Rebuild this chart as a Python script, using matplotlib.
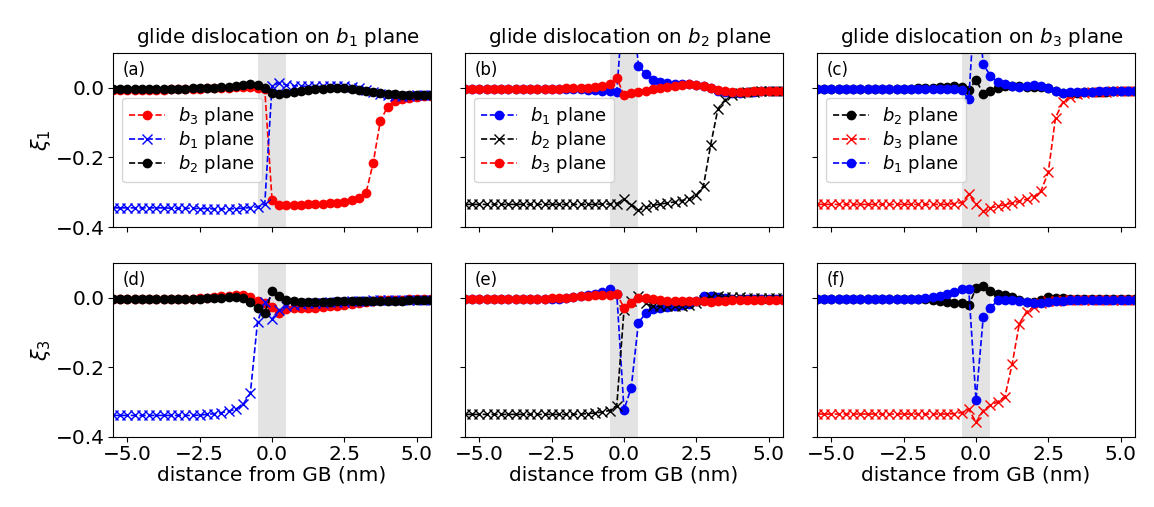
import numpy as np
import matplotlib
matplotlib.use("Agg")
import matplotlib.pyplot as plt

# distance from GB (nm)
x = np.arange(-5.5, 5.5001, 0.25)

# ---------- xi_1 : glide on b1 plane (a) ----------
a_b3 = [-0.006, -0.006, -0.006, -0.006, -0.005, -0.005, -0.005, -0.005, -0.004, -0.004, -0.004,
        -0.003, -0.003, -0.002, -0.002, -0.001, 0.000, 0.001, 0.002, 0.002, 0.000,
        -0.004, -0.321, -0.338, -0.338, -0.337, -0.336, -0.335, -0.334, -0.333, -0.332, -0.330,
        -0.327, -0.323, -0.316, -0.303, -0.216, -0.094, -0.055, -0.039, -0.032, -0.028, -0.026,
        -0.024, -0.023]
a_b1 = [-0.345, -0.345, -0.345, -0.345, -0.345, -0.345, -0.345, -0.345, -0.346, -0.346, -0.346,
        -0.346, -0.347, -0.347, -0.348, -0.348, -0.348, -0.347, -0.346, -0.344, -0.342,
        -0.334, 0.004, 0.015, 0.008, 0.006, 0.005, 0.004, 0.004, 0.004, 0.004, 0.004,
        0.004, 0.003, 0.000, -0.006, -0.012, -0.018, -0.022, -0.024, -0.024, -0.023, -0.022,
        -0.022, -0.021]
a_b2 = [-0.004, -0.004, -0.004, -0.004, -0.004, -0.004, -0.004, -0.004, -0.003, -0.003, -0.003,
        -0.002, -0.002, -0.001, 0.000, 0.001, 0.003, 0.006, 0.009, 0.012, 0.008,
        -0.002, -0.015, -0.019, -0.016, -0.012, -0.008, -0.006, -0.004, -0.003, -0.002, -0.001,
        -0.001, -0.003, -0.006, -0.009, -0.012, -0.015, -0.017, -0.019, -0.020, -0.020, -0.020,
        -0.020, -0.020]

# ---------- xi_1 : glide on b2 plane (b) ----------
b_b1 = [-0.003, -0.003, -0.003, -0.003, -0.003, -0.003, -0.003, -0.003, -0.003, -0.003, -0.003,
        -0.003, -0.003, -0.003, -0.003, -0.003, -0.004, -0.005, -0.007, -0.009, -0.010,
        -0.011, 0.270, 0.270, 0.063, 0.040, 0.022, 0.017, 0.014, 0.012, 0.012, 0.011,
        0.008, 0.004, -0.002, -0.008, -0.013, -0.015, -0.014, -0.012, -0.011, -0.010, -0.010,
        -0.010, -0.010]
b_b2 = [-0.335, -0.335, -0.335, -0.335, -0.335, -0.335, -0.335, -0.335, -0.335, -0.335, -0.335,
        -0.335, -0.335, -0.335, -0.335, -0.335, -0.335, -0.335, -0.335, -0.334, -0.334,
        -0.333, -0.320, -0.336, -0.352, -0.343, -0.338, -0.334, -0.331, -0.328, -0.324, -0.319,
        -0.308, -0.282, -0.163, -0.060, -0.034, -0.022, -0.016, -0.013, -0.011, -0.010, -0.009,
        -0.009, -0.009]
b_b3 = [-0.004, -0.004, -0.004, -0.004, -0.004, -0.004, -0.004, -0.004, -0.004, -0.004, -0.003,
        -0.003, -0.003, -0.003, -0.002, -0.002, -0.001, 0.000, 0.002, 0.005, 0.011,
        0.029, -0.021, -0.016, -0.012, -0.008, -0.004, 0.000, 0.003, 0.006, 0.008, 0.010,
        0.009, 0.005, -0.001, -0.006, -0.010, -0.012, -0.012, -0.011, -0.010, -0.010, -0.010,
        -0.009, -0.009]

# ---------- xi_1 : glide on b3 plane (c) ----------
c_b2 = [-0.003, -0.003, -0.003, -0.003, -0.003, -0.003, -0.003, -0.003, -0.003, -0.003, -0.003,
        -0.003, -0.003, -0.003, -0.002, -0.001, 0.000, 0.002, 0.003, 0.004, 0.003,
        -0.007, 0.023, -0.017, -0.010, 0.000, 0.005, 0.005, 0.004, 0.003, 0.003, 0.002,
        -0.002, -0.010, -0.015, -0.015, -0.014, -0.013, -0.012, -0.011, -0.011, -0.010, -0.010,
        -0.010, -0.010]
c_b3 = [-0.335, -0.335, -0.335, -0.335, -0.335, -0.335, -0.335, -0.335, -0.335, -0.335, -0.335,
        -0.335, -0.335, -0.335, -0.335, -0.335, -0.335, -0.335, -0.335, -0.333, -0.330,
        -0.306, -0.335, -0.355, -0.345, -0.340, -0.336, -0.331, -0.326, -0.320, -0.313, -0.296,
        -0.243, -0.086, -0.042, -0.025, -0.018, -0.015, -0.013, -0.012, -0.011, -0.010, -0.010,
        -0.010, -0.010]
c_b1 = [-0.003, -0.003, -0.003, -0.003, -0.003, -0.003, -0.003, -0.003, -0.003, -0.003, -0.003,
        -0.003, -0.003, -0.003, -0.003, -0.003, -0.003, -0.003, -0.003, -0.004, -0.006,
        -0.033, 0.300, 0.068, 0.034, 0.017, 0.010, 0.005, 0.003, 0.006, 0.008, 0.006,
        0.000, -0.009, -0.014, -0.013, -0.012, -0.011, -0.011, -0.010, -0.010, -0.010, -0.010,
        -0.010, -0.010]

# ---------- xi_3 : glide on b1 plane (d) ----------
d_b3 = [-0.003, -0.003, -0.003, -0.003, -0.003, -0.003, -0.003, -0.003, -0.003, -0.003, -0.003,
        -0.003, -0.002, 0.000, 0.002, 0.004, 0.006, 0.008, 0.007, 0.002, -0.008,
        -0.015, -0.026, -0.045, -0.033, -0.030, -0.030, -0.029, -0.028, -0.027, -0.025, -0.023,
        -0.020, -0.017, -0.014, -0.011, -0.009, -0.007, -0.006, -0.005, -0.005, -0.004, -0.004,
        -0.004, -0.004]
d_b1 = [-0.338, -0.338, -0.338, -0.338, -0.338, -0.338, -0.338, -0.338, -0.338, -0.338, -0.338,
        -0.338, -0.337, -0.335, -0.333, -0.330, -0.326, -0.320, -0.306, -0.275, -0.069,
        -0.011, -0.062, -0.035, -0.025, -0.020, -0.018, -0.016, -0.015, -0.014, -0.013, -0.012,
        -0.011, -0.010, -0.009, -0.008, -0.007, -0.007, -0.006, -0.006, -0.005, -0.005, -0.005,
        -0.005, -0.005]
d_b2 = [-0.004, -0.004, -0.004, -0.004, -0.004, -0.004, -0.004, -0.004, -0.004, -0.004, -0.004,
        -0.004, -0.003, -0.002, -0.001, 0.000, 0.001, 0.002, 0.000, -0.012, -0.030,
        -0.045, 0.019, 0.005, -0.007, -0.010, -0.011, -0.011, -0.011, -0.011, -0.011, -0.010,
        -0.010, -0.010, -0.010, -0.010, -0.010, -0.009, -0.009, -0.008, -0.008, -0.007, -0.007,
        -0.006, -0.006]

# ---------- xi_3 : glide on b2 plane (e) ----------
e_b1 = [-0.003, -0.003, -0.003, -0.003, -0.003, -0.003, -0.003, -0.003, -0.003, -0.003, -0.003,
        -0.003, -0.003, -0.003, -0.001, 0.001, 0.004, 0.008, 0.012, 0.017, 0.024,
        0.012, -0.322, -0.258, -0.071, -0.045, -0.031, -0.028, -0.026, -0.024, -0.021, -0.017,
        -0.010, 0.004, 0.005, 0.001, -0.002, -0.003, -0.003, -0.003, -0.003, -0.003, -0.003,
        -0.003, -0.003]
e_b2 = [-0.335, -0.335, -0.335, -0.335, -0.335, -0.335, -0.335, -0.335, -0.335, -0.335, -0.335,
        -0.335, -0.335, -0.335, -0.335, -0.335, -0.334, -0.333, -0.331, -0.328, -0.324,
        -0.310, -0.035, -0.008, 0.005, -0.016, -0.024, -0.025, -0.025, -0.024, -0.023, -0.021,
        -0.015, -0.005, 0.003, 0.004, 0.003, 0.002, 0.001, 0.000, 0.000, 0.000, 0.000,
        0.000, 0.000]
e_b3 = [-0.003, -0.003, -0.003, -0.003, -0.003, -0.003, -0.003, -0.003, -0.003, -0.003, -0.003,
        -0.003, -0.002, -0.001, 0.000, 0.002, 0.004, 0.006, 0.007, 0.008, 0.009,
        0.012, -0.029, -0.014, -0.002, -0.001, -0.004, -0.007, -0.009, -0.010, -0.010, -0.010,
        -0.009, -0.010, -0.011, -0.010, -0.008, -0.006, -0.005, -0.005, -0.005, -0.005, -0.005,
        -0.005, -0.005]

# ---------- xi_3 : glide on b3 plane (f) ----------
f_b2 = [-0.003, -0.003, -0.003, -0.003, -0.003, -0.003, -0.003, -0.003, -0.003, -0.003, -0.003,
        -0.003, -0.003, -0.003, -0.003, -0.004, -0.006, -0.009, -0.011, -0.014, -0.015,
        -0.021, 0.027, 0.035, 0.019, 0.012, 0.008, 0.001, -0.006, -0.011, -0.012, -0.006,
        0.003, 0.000, -0.002, -0.003, -0.003, -0.003, -0.003, -0.003, -0.003, -0.003, -0.003,
        -0.003, -0.003]
f_b3 = [-0.334, -0.334, -0.334, -0.334, -0.334, -0.334, -0.334, -0.334, -0.334, -0.334, -0.334,
        -0.334, -0.334, -0.334, -0.334, -0.334, -0.334, -0.334, -0.334, -0.333, -0.330,
        -0.320, -0.358, -0.324, -0.308, -0.299, -0.284, -0.191, -0.074, -0.040, -0.026, -0.016,
        -0.010, -0.008, -0.006, -0.005, -0.005, -0.005, -0.005, -0.005, -0.005, -0.005, -0.005,
        -0.005, -0.005]
f_b1 = [-0.003, -0.003, -0.003, -0.003, -0.003, -0.003, -0.003, -0.003, -0.003, -0.003, -0.003,
        -0.003, -0.003, -0.003, -0.003, -0.001, 0.001, 0.004, 0.010, 0.017, 0.024,
        0.024, -0.294, -0.056, -0.029, -0.007, -0.006, -0.006, -0.008, -0.012, -0.016, -0.015,
        -0.012, -0.010, -0.008, -0.007, -0.006, -0.005, -0.005, -0.005, -0.005, -0.005, -0.005,
        -0.005, -0.005]

titles = ["glide dislocation on $b_1$ plane",
          "glide dislocation on $b_2$ plane",
          "glide dislocation on $b_3$ plane"]
panel_labels = ["(a)", "(b)", "(c)", "(d)", "(e)", "(f)"]
ylabels = [r"$\xi_1$", r"$\xi_3$"]
xticks = [-5.0, -2.5, 0.0, 2.5, 5.0]
yticks = [-0.4, -0.2, 0.0]

# series per panel: (values, colour, marker, label) in drawing order
panels = [
    [(a_b3, "red", "o", "$b_3$ plane"), (a_b1, "blue", "x", "$b_1$ plane"), (a_b2, "black", "o", "$b_2$ plane")],
    [(b_b1, "blue", "o", "$b_1$ plane"), (b_b2, "black", "x", "$b_2$ plane"), (b_b3, "red", "o", "$b_3$ plane")],
    [(c_b2, "black", "o", "$b_2$ plane"), (c_b3, "red", "x", "$b_3$ plane"), (c_b1, "blue", "o", "$b_1$ plane")],
    [(d_b3, "red", "o", "$b_3$ plane"), (d_b1, "blue", "x", "$b_1$ plane"), (d_b2, "black", "o", "$b_2$ plane")],
    [(e_b1, "blue", "o", "$b_1$ plane"), (e_b2, "black", "x", "$b_2$ plane"), (e_b3, "red", "o", "$b_3$ plane")],
    [(f_b2, "black", "o", "$b_2$ plane"), (f_b3, "red", "x", "$b_3$ plane"), (f_b1, "blue", "o", "$b_1$ plane")],
]

W, H = 1154, 507
fig = plt.figure(figsize=(W / 100, H / 100), dpi=100)
lefts = [113, 465, 817]
tops = [53, 263]
aw, ah = 318, 174

for i, series in enumerate(panels):
    r, c = divmod(i, 3)
    ax = fig.add_axes([lefts[c] / W, 1 - (tops[r] + ah) / H, aw / W, ah / H])
    ax.axvspan(-0.5, 0.5, color="#e3e3e3", zorder=0, lw=0)
    for vals, col, mk, lab in series:
        if mk == "o":
            ax.plot(x, vals, ls="--", color=col, marker="o", ms=6, lw=1.2, label=lab)
        else:
            ax.plot(x, vals, ls="--", color=col, marker="x", ms=7, mew=1.0, lw=1.2, label=lab)
    ax.set_xlim(-5.5, 5.5)
    ax.set_ylim(-0.4, 0.1)
    ax.set_xticks(xticks)
    ax.set_yticks(yticks)
    ax.tick_params(labelsize=14.5, pad=2.5)
    ax.text(0.03, 0.955, panel_labels[i], transform=ax.transAxes, va="top", ha="left", fontsize=12)
    if r == 0:
        ax.set_title(titles[c], fontsize=14.3, pad=7, x=0.52)
        ax.tick_params(labelbottom=False)
        ax.legend(loc="center left", fontsize=13, labelspacing=0.12, borderaxespad=0.5,
                  handletextpad=0.7)
    else:
        ax.set_xlabel("distance from GB (nm)", fontsize=14.5, labelpad=1)
    if c == 0:
        ax.set_ylabel(ylabels[r], fontsize=15, labelpad=2)
    else:
        ax.tick_params(labelleft=False)

fig.savefig("out.png", dpi=100)
